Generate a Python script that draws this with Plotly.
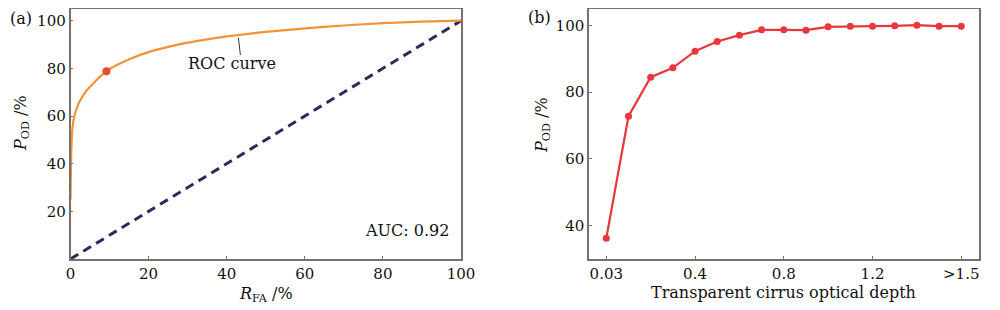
import plotly.graph_objects as go

# Panel (a): ROC curve
roc_far = [0.0, 0.2, 0.5, 1, 2, 3, 4, 6, 9.2, 12, 16, 20, 25, 30, 35, 40, 45, 50, 60, 70, 80, 90, 100]
roc_pod = [25, 45, 55, 60, 65, 68, 70.5, 74, 78.8, 81.5, 84.5, 86.8, 89, 90.8, 92.2, 93.4, 94.4, 95.3, 96.8, 98, 99, 99.6, 100]
op_far = [9.2]
op_pod = [78.8]
diag_x = [0, 100]
diag_y = [0, 100]

# Panel (b): POD vs optical depth
depth_labels = ['0.03', '0.1', '0.2', '0.3', '0.4', '0.5', '0.6', '0.7', '0.8', '0.9',
                '1.0', '1.1', '1.2', '1.3', '1.4', '1.5', '>1.5']
pod_values = [36.2, 72.8, 84.5, 87.3, 92.3, 95.2, 97.1, 98.7, 98.7, 98.6,
              99.6, 99.8, 99.8, 99.9, 100.1, 99.8, 99.8]
depth_ticks = ['0.03', '0.4', '0.8', '1.2', '>1.5']

FONT = "DejaVu Serif"
FS = 15
FT = 16
frame = '#77716c'
orange = '#f39237'
red = '#e8383d'
navy = '#2d2a5a'

# page has an 8px body margin; figure is sized to fit the window
OFF = 8
W, H = 1000 - OFF, 310 - OFF


def PX(px):
    return (px - OFF) / W


def PY(py):
    return 1 - (py - OFF) / H


fig = go.Figure()
fig.add_trace(go.Scatter(x=diag_x, y=diag_y, mode='lines',
                         line=dict(color=navy, width=3, dash='9px,6px'),
                         xaxis='x', yaxis='y', showlegend=False))
fig.add_trace(go.Scatter(x=roc_far, y=roc_pod, mode='lines',
                         line=dict(color=orange, width=2.2, shape='spline', smoothing=0.6),
                         xaxis='x', yaxis='y', showlegend=False))
fig.add_trace(go.Scatter(x=op_far, y=op_pod, mode='markers',
                         marker=dict(color='#ec4a36', size=8),
                         xaxis='x', yaxis='y', showlegend=False))
fig.add_trace(go.Scatter(x=depth_labels, y=pod_values, mode='lines+markers',
                         line=dict(color=red, width=2.2),
                         marker=dict(color=red, size=7),
                         xaxis='x2', yaxis='y2', showlegend=False))

ax_common = dict(showline=True, mirror=True, linecolor=frame, linewidth=1.5,
                 ticks='inside', ticklen=3, tickcolor=frame, tickwidth=1,
                 showgrid=False, zeroline=False, automargin=False,
                 tickfont=dict(family=FONT, size=FS, color='#111'))

ydom = [PY(259), PY(8.8)]
fig.update_layout(
    width=W, height=H,
    margin=dict(l=0, r=0, t=0, b=0, autoexpand=False),
    plot_bgcolor='white', paper_bgcolor='white',
    xaxis=dict(domain=[PX(70.5), PX(461)], range=[0, 100], tickvals=[0, 20, 40, 60, 80, 100],
               anchor='y', **ax_common),
    yaxis=dict(domain=ydom, range=[0, 105], tickvals=[20, 40, 60, 80, 100],
               anchor='x', **ax_common),
    xaxis2=dict(domain=[PX(589), PX(979)], type='category', range=[-0.78, 16.8],
                tickvals=depth_ticks, ticktext=depth_ticks, anchor='y2', **ax_common),
    yaxis2=dict(domain=ydom, range=[30, 105], tickvals=[40, 60, 80, 100],
                anchor='x2', **ax_common),
)

tf = dict(family=FONT, size=FT, color='#111')
annotations = [
    dict(text='(a)', x=PX(8), y=PY(19), xref='paper', yref='paper', showarrow=False,
         font=tf, xanchor='left', yanchor='middle'),
    dict(text='(b)', x=PX(539), y=PY(18), xref='paper', yref='paper', showarrow=False,
         font=tf, xanchor='center', yanchor='middle'),
]
# axis titles
annotations += [
    dict(text='<i>R</i><sub>FA</sub> /%', x=PX(266), y=PY(294),
         xref='paper', yref='paper', showarrow=False, font=tf, xanchor='center', yanchor='middle'),
    dict(text='Transparent cirrus optical depth', x=PX(783), y=PY(292),
         xref='paper', yref='paper', showarrow=False, font=tf, xanchor='center', yanchor='middle'),
    dict(text='<i>P</i><sub>OD</sub> /%', x=PX(21), y=PY(123), textangle=-90,
         xref='paper', yref='paper', showarrow=False, font=tf, xanchor='center', yanchor='middle'),
    dict(text='<i>P</i><sub>OD</sub> /%', x=PX(542), y=PY(125), textangle=-90,
         xref='paper', yref='paper', showarrow=False, font=tf, xanchor='center', yanchor='middle'),
    dict(text='ROC curve', x=41.3, y=82, xref='x', yref='y', showarrow=False, font=tf,
         xanchor='center', yanchor='middle'),
    dict(text='AUC: 0.92', x=86.1, y=11.8, xref='x', yref='y', showarrow=False, font=tf,
         xanchor='center', yanchor='middle'),
]
fig.update_layout(annotations=annotations)
fig.add_shape(type='line', x0=43, y0=92.8, x1=43.5, y1=85.6, xref='x', yref='y',
              line=dict(color='#333', width=1))

fig.write_html('out.html')
